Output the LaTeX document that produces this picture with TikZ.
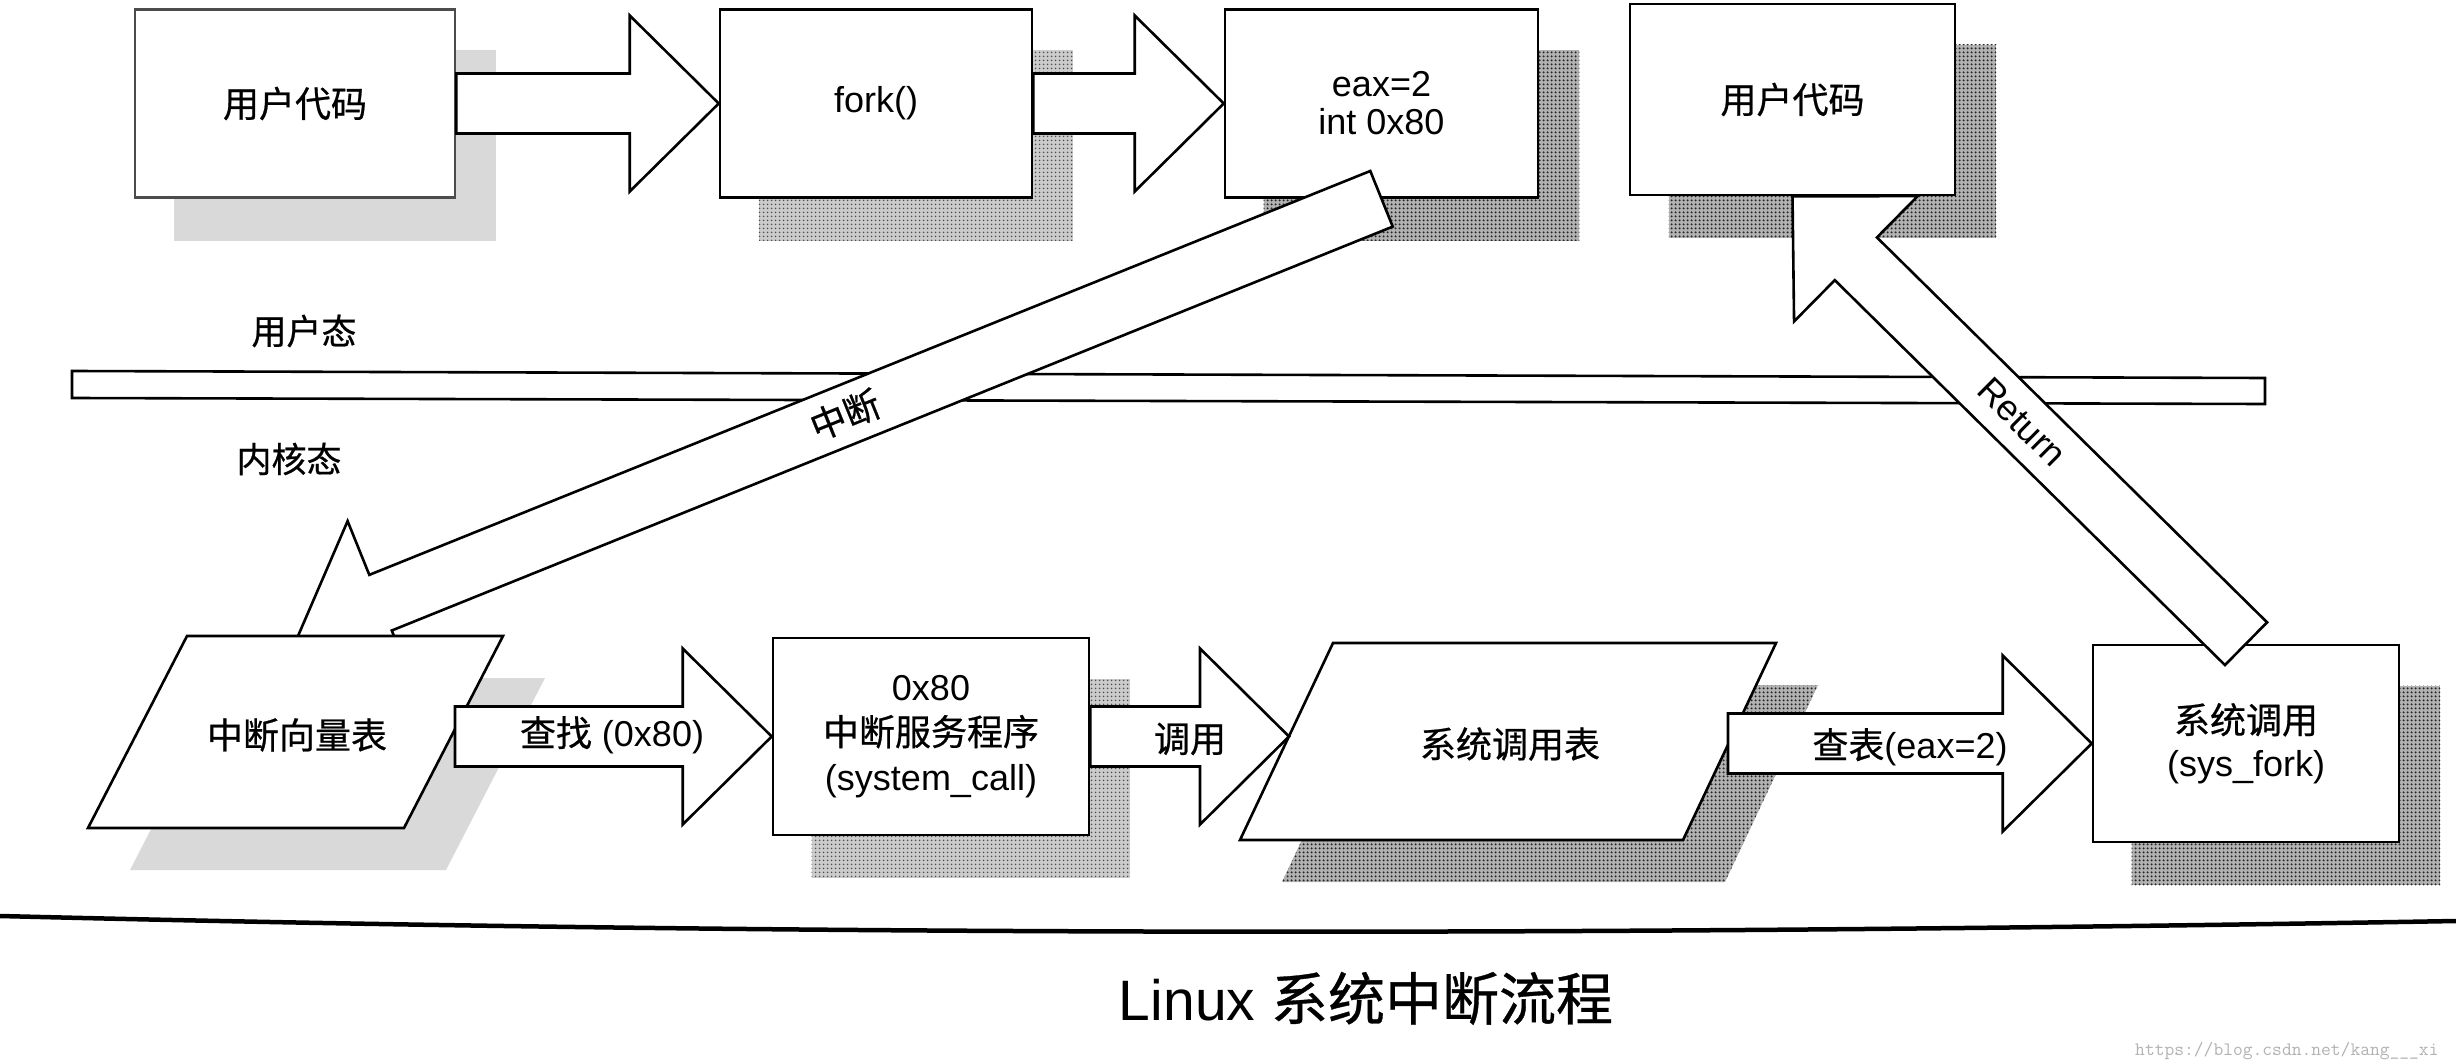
\documentclass[tikz,border=0pt]{standalone}
\usepackage{fontspec}
\setmainfont{Liberation Sans}
\newfontfamily\cjk{Noto Sans CJK SC}[FakeBold=0.6]
\usetikzlibrary{calc,patterns.meta}
\pgfdeclarelayer{shadowlayer}
\pgfsetlayers{shadowlayer,main}

\newcommand\ShaftW{30pt}
\newcommand\HeadW{88pt}
\newcommand\HeadL{89pt}
% block arrow: #2 name, #3 tail point, #4 tip point
\newcommand\blockarrow[4][]{%
  \coordinate (#2-h) at ($#4!\HeadL!#3$);
  \filldraw[barrow,#1] ($#3!\ShaftW!90:#4$) -- ($(#2-h)!\ShaftW!90:#4$)
    -- ($(#2-h)!\HeadW!90:#4$) -- #4 -- ($(#2-h)!\HeadW!-90:#4$)
    -- ($(#2-h)!\ShaftW!-90:#4$) -- ($#3!\ShaftW!-90:#4$) -- cycle;}
\newcommand\boxshadow[2]{%
  \begin{pgfonlayer}{shadowlayer}
    \path[#1] ($(#2.south west)+(40,42)$) rectangle ($(#2.north east)+(40,42)$);
  \end{pgfonlayer}}

\begin{document}
\begin{tikzpicture}[x=1pt,y=-1pt,
  every node/.style={font=\fontsize{36}{44}\selectfont, inner sep=0pt},
  box/.style={draw=black, fill=white, line width=2.6pt, align=center},
  barrow/.style={draw=black, fill=white, line width=2.6pt, line join=miter},
  plg/.style={draw=black, fill=white, line width=2.6pt, line join=miter},
  lightsh/.style={fill=black!15},
  darksh/.style={preaction={fill=black!30}, pattern={Dots[distance=4pt,radius=1.3pt]}, pattern color=black!85},
  midsh/.style={preaction={fill=black!20}, pattern={Dots[distance=4pt,radius=1.1pt]}, pattern color=black!70},
  lbl/.style={font=\cjk\fontsize{35}{40}\selectfont}
]
\useasboundingbox (0,0) rectangle (2456,1064);
\begin{pgfonlayer}{shadowlayer}
  \fill[white] (0,0) rectangle (2456,1064);
\end{pgfonlayer}

% user / kernel divider band
\draw[plg] (72,371) -- (2265,378) -- (2265,404) -- (72,398) -- cycle;
\node[lbl] (us) at (304,331) {用户态};
\node[lbl] (ks) at (289,459) {内核态};

% top row
\node[box, draw=black!70, minimum width=320pt, minimum height=188pt] (u1) at (295,103.5) {\cjk 用户代码};
\boxshadow{lightsh}{u1}
\node[box, minimum width=312pt, minimum height=188pt] (fork) at (876,103.5) {fork()};
\boxshadow{midsh}{fork}
\node[box, minimum width=313pt, minimum height=188pt, font=\fontsize{36}{38}\selectfont] (eax) at (1381.5,103.5) {eax=2\\int 0x80};
\boxshadow{darksh}{eax}
\node[box, minimum width=325pt, minimum height=191pt] (u2) at (1792.5,99.5) {\cjk 用户代码};
\boxshadow{darksh}{u2}

% bottom row boxes
\node[box, minimum width=316pt, minimum height=197pt, font=\fontsize{36}{45}\selectfont] (sc) at (931,736.5) {0x80\\{\cjk 中断服务程序}\\(system\_call)};
\boxshadow{midsh}{sc}
\node[box, minimum width=306pt, minimum height=197pt, font=\fontsize{36}{43}\selectfont] (sf) at (2246,743.5) {{\cjk 系统调用}\\(sys\_fork)};
\boxshadow{darksh}{sf}

% connector end points on the parallelograms
\coordinate (ivt-tip) at (298,636);
\coordinate (ivt-e) at (455,736.5);
\coordinate (sct-w) at (1289,736.5);
\coordinate (sct-e) at (1728,743.5);

% diagonal arrows
\blockarrow{ret}{(sf.north)}{(u2.south)}
\blockarrow{int}{(eax.south)}{(ivt-tip)}

% parallelograms
\begin{pgfonlayer}{shadowlayer}
  \fill[lightsh] (229,678) -- (545,678) -- (446,870) -- (130,870) -- cycle;
  \path[darksh] (1375,685) -- (1818,685) -- (1725,882) -- (1282,882) -- cycle;
\end{pgfonlayer}
\draw[plg] (187,636) -- (503,636) -- (404,828) -- (88,828) -- cycle;
\node (ivt) at (297,735) {\cjk 中断向量表};
\draw[plg] (1333,643) -- (1776,643) -- (1683,840) -- (1240,840) -- cycle;
\node (sct) at (1510,744) {\cjk 系统调用表};

% horizontal arrows
\blockarrow{a1}{(u1.east)}{(fork.west)}
\blockarrow{a2}{(fork.east)}{(eax.west)}
\blockarrow{a3}{(ivt-e)}{(sc.west)}
\blockarrow{a4}{(sc.east)}{(sct-w)}
\blockarrow{a5}{(sct-e)}{(sf.west)}

% arrow labels
\node (l3) at (612,735) {{\cjk 查找} (0x80)};
\node (l4) at (1190,739) {\cjk 调用};
\node (l5) at (1910,747) {{\cjk 查表}(eax=2)};
\node[rotate=22.1] (lint) at (845,415) {\cjk 中断};
\node[rotate=-44.8] (lret) at (2022,422) {Return};

% bottom rule and caption
\draw[line width=4.5pt] (0,916) .. controls (800,936) and (1600,936) .. (2456,921);
\node[anchor=base, font=\fontsize{57}{60}\selectfont] (cap) at (1366,1020) {Linux {\cjk 系统中断流程}};
\node[anchor=base west, font=\ttfamily\fontsize{19}{20}\selectfont, text=black!30] (wm) at (2135,1055) {https://blog.csdn.net/kang\_\_\_xi};
\end{tikzpicture}
\end{document}
